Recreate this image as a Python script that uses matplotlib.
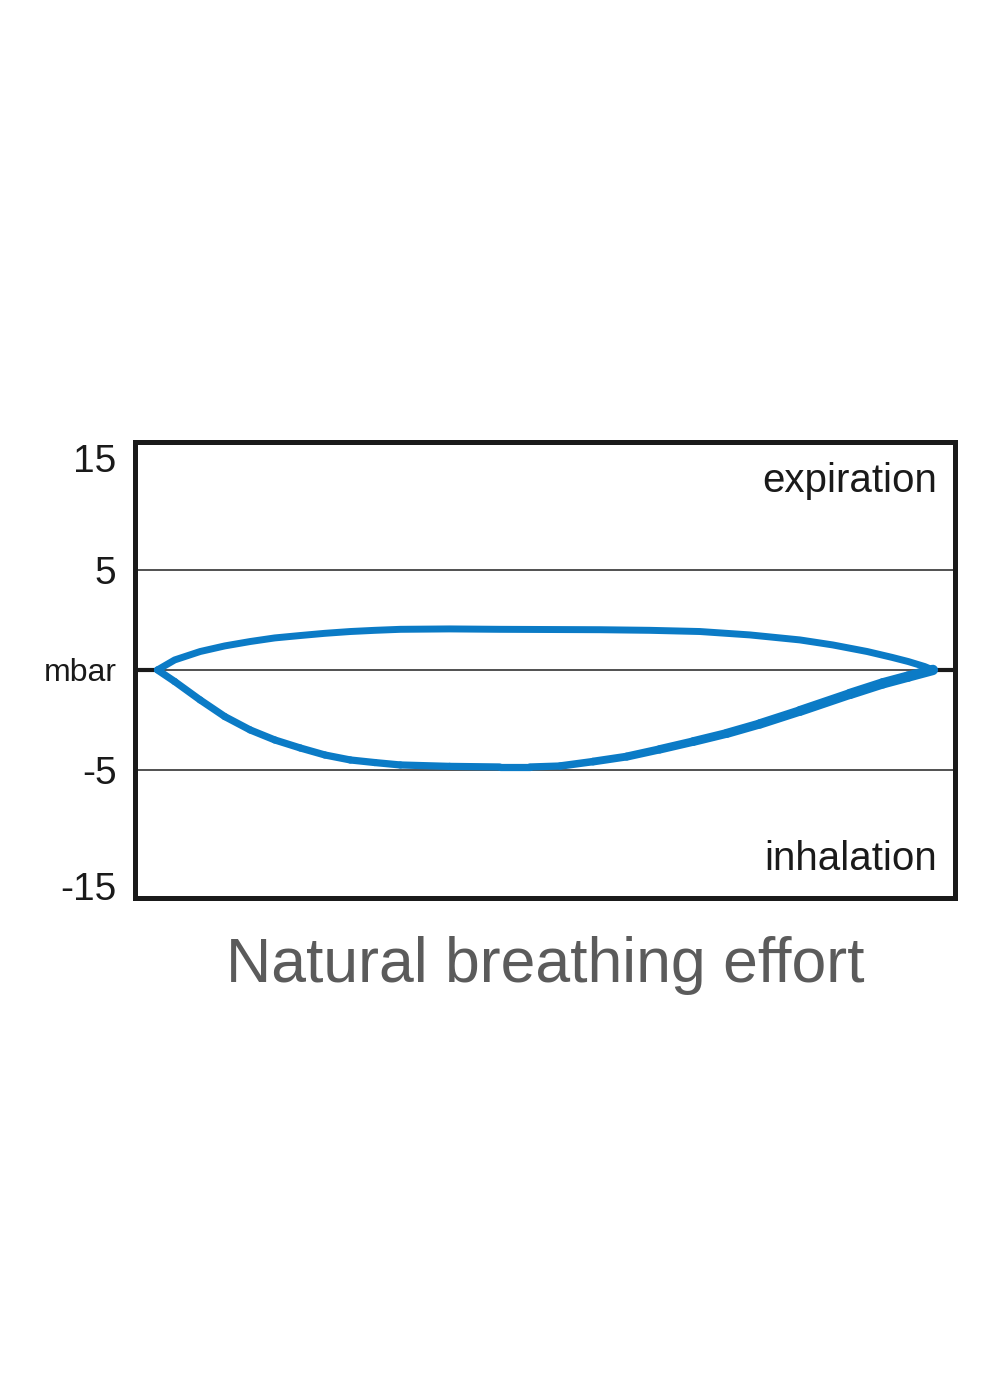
import matplotlib
matplotlib.use("Agg")
import matplotlib.pyplot as plt
import numpy as np
from matplotlib.collections import LineCollection

# breathing cycle position (% of plot width) and pressure (mbar)
exp_time = [2.8, 4.9, 8.0, 11.0, 14.1, 17.1, 20.2, 23.2, 26.3, 29.3, 32.4,
            38.4, 44.5, 50.6, 56.7, 62.8, 68.9, 75.0, 81.1, 85.1, 89.3,
            92.3, 94.3, 96.3, 97.3]
exp_pressure = [0.0, 0.5, 0.92, 1.2, 1.42, 1.6, 1.72, 1.83, 1.92, 1.98, 2.03,
                2.05, 2.03, 2.02, 2.01, 1.98, 1.92, 1.75, 1.5, 1.25, 0.92,
                0.63, 0.42, 0.17, 0.0]

inh_time = [2.8, 4.9, 8.0, 11.0, 14.1, 17.1, 20.2, 23.2, 26.3, 29.3, 32.4,
            38.4, 44.5, 48.2, 51.9, 55.9, 60.0, 64.0, 68.1, 72.2, 76.2,
            81.1, 87.2, 91.2, 94.3, 97.3]
inh_pressure = [0.0, -0.58, -1.5, -2.33, -3.0, -3.5, -3.9, -4.25, -4.5, -4.63, -4.75,
                -4.82, -4.85, -4.85, -4.8, -4.58, -4.33, -3.97, -3.58, -3.17, -2.7,
                -2.05, -1.2, -0.67, -0.33, 0.0]

tick_values = [15, 5, 0, -5, -15]
tick_labels = ['15', '5', 'mbar', '-5', '-15']
grid_values = [5, -5]

blue = '#0b7bc6'


# the y axis is stretched between -5 and 5, compressed outside
def fwd(y):
    y = np.asarray(y, float)
    return np.where(y > 5, 5 + (y - 5) * 0.56, np.where(y < -5, -5 + (y + 5) * 0.58, y))


def inv(z):
    z = np.asarray(z, float)
    return np.where(z > 5, 5 + (z - 5) / 0.56, np.where(z < -5, -5 + (z + 5) / 0.58, z))


plt.rcParams['font.family'] = ['Liberation Sans', 'DejaVu Sans']

fig = plt.figure(figsize=(10, 14), dpi=100)
ax = fig.add_axes([0.1345, 0.3586, 0.8205, 0.3254])
ax.set_yscale('function', functions=(fwd, inv))
ax.set_xlim(0, 100)
ax.set_ylim(-16.03, 16.38)

# reference lines
for g in grid_values:
    ax.axhline(g, color='#222222', lw=1.1, zorder=1)
ax.axhline(0, color='#222222', lw=1.1, zorder=1)
ax.plot([0, exp_time[0]], [0, 0], color='#1a1a1a', lw=3, solid_capstyle='butt', zorder=1)
ax.plot([exp_time[-1], 100], [0, 0], color='#1a1a1a', lw=3, solid_capstyle='butt', zorder=1)

# expiration branch
ax.plot(exp_time, exp_pressure, color=blue, lw=5, solid_joinstyle='round',
        solid_capstyle='round', zorder=3)

# inhalation branch, gets thicker towards the end
pts = np.column_stack([inh_time, inh_pressure])
segs = np.stack([pts[:-1], pts[1:]], axis=1)
mid = (np.array(inh_time[:-1]) + np.array(inh_time[1:])) / 2
widths = 5.2 + 2.3 * np.clip((mid - 50) / 40, 0, 1)
lc = LineCollection(segs, colors=blue, linewidths=widths, capstyle='round',
                    joinstyle='round', zorder=3)
ax.add_collection(lc)

ax.set_xticks([])
ax.set_yticks(tick_values)
ax.set_yticklabels(tick_labels, fontsize=28, color='#1a1a1a')
ax.get_yticklabels()[2].set_fontsize(23)
ax.tick_params(axis='y', length=0, pad=13)
ax.yaxis.set_minor_locator(matplotlib.ticker.NullLocator())

for s in ax.spines.values():
    s.set_linewidth(3.6)
    s.set_color('#1a1a1a')

ax.text(0.978, 0.891, 'expiration', transform=ax.transAxes, ha='right',
        va='baseline', fontsize=29, color='#1a1a1a')
ax.text(0.978, 0.0615, 'inhalation', transform=ax.transAxes, ha='right',
        va='baseline', fontsize=29, color='#1a1a1a')

fig.text(0.5455, 0.2986, 'Natural breathing effort', ha='center', va='baseline',
         fontsize=45, color='#5b5b5b')

fig.savefig('out.png', dpi=100)
plt.close(fig)
